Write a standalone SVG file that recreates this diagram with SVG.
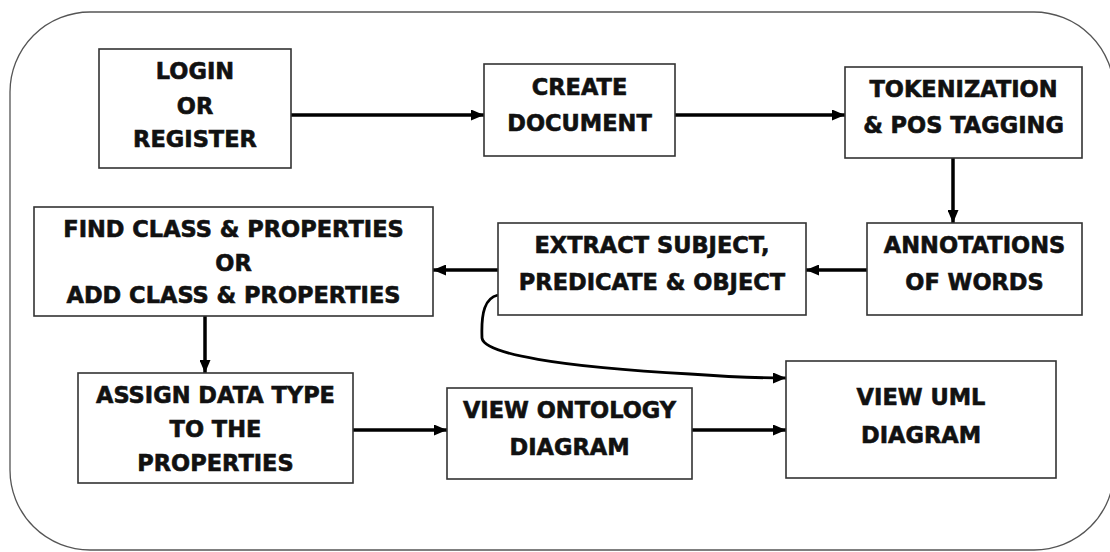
<svg xmlns="http://www.w3.org/2000/svg" width="1110" height="552" viewBox="0 0 1110 552">
<defs>
<marker id="ah" markerUnits="userSpaceOnUse" markerWidth="13" markerHeight="11" refX="13" refY="5.5" orient="auto">
<path d="M0,0 L13,5.5 L0,11 Z" fill="#000"/>
</marker>
<style>
.frame{fill:none;stroke:#555;stroke-width:1.3}
.box{fill:#fff;stroke:#333;stroke-width:1.6}
.lbl{font-family:"DejaVu Sans","Liberation Sans",sans-serif;font-weight:bold;font-size:22.5px;fill:#111;stroke:#111;stroke-width:0.6;text-anchor:middle}
.ar{fill:none;stroke:#000;stroke-width:3.5;marker-end:url(#ah)}
.cv{fill:none;stroke:#000;stroke-width:2.8;marker-end:url(#ah)}
</style>
</defs>
<rect class="frame" x="10" y="12" width="1104" height="538" rx="80" ry="80"/>
<g id="connectors">
<line class="ar" x1="291" y1="115" x2="484" y2="115"/>
<line class="ar" x1="675" y1="115" x2="845" y2="115"/>
<line class="ar" x1="953" y1="158" x2="953" y2="223"/>
<line class="ar" x1="867" y1="270" x2="806" y2="270"/>
<line class="ar" x1="498" y1="270" x2="433" y2="270"/>
<line class="ar" x1="205" y1="316" x2="205" y2="373"/>
<line class="ar" x1="353" y1="430" x2="447" y2="430"/>
<line class="ar" x1="692" y1="430" x2="786" y2="430"/>
<path class="cv" d="M498,295 C485,298 481,312 482,338 C484,354 560,367 690,374 C730,377 760,378 786,378"/>
</g>
<g id="login">
<rect class="box" x="99" y="49" width="192" height="119"/>
<text class="lbl" x="195" y="79">LOGIN</text>
<text class="lbl" x="195" y="114">OR</text>
<text class="lbl" x="195" y="147">REGISTER</text>
</g>
<g id="create">
<rect class="box" x="484" y="64" width="191" height="92"/>
<text class="lbl" x="579.5" y="95">CREATE</text>
<text class="lbl" x="579.5" y="131">DOCUMENT</text>
</g>
<g id="tokenization">
<rect class="box" x="845" y="67" width="237" height="91"/>
<text class="lbl" x="963.5" y="97">TOKENIZATION</text>
<text class="lbl" x="963.5" y="133">&amp; POS TAGGING</text>
</g>
<g id="annotations">
<rect class="box" x="867" y="223" width="215" height="92"/>
<text class="lbl" x="974.5" y="253">ANNOTATIONS</text>
<text class="lbl" x="974.5" y="290">OF WORDS</text>
</g>
<g id="extract">
<rect class="box" x="498" y="223" width="308" height="92"/>
<text class="lbl" x="652" y="253">EXTRACT SUBJECT,</text>
<text class="lbl" x="652" y="290">PREDICATE &amp; OBJECT</text>
</g>
<g id="findclass">
<rect class="box" x="34" y="207" width="399" height="109"/>
<text class="lbl" x="233.5" y="237">FIND CLASS &amp; PROPERTIES</text>
<text class="lbl" x="233.5" y="271">OR</text>
<text class="lbl" x="233.5" y="303">ADD CLASS &amp; PROPERTIES</text>
</g>
<g id="assign">
<rect class="box" x="78" y="373" width="275" height="110"/>
<text class="lbl" x="215.5" y="403">ASSIGN DATA TYPE</text>
<text class="lbl" x="215.5" y="437">TO THE</text>
<text class="lbl" x="215.5" y="471">PROPERTIES</text>
</g>
<g id="ontology">
<rect class="box" x="447" y="388" width="245" height="91"/>
<text class="lbl" x="569.5" y="418">VIEW ONTOLOGY</text>
<text class="lbl" x="569.5" y="455">DIAGRAM</text>
</g>
<g id="uml">
<rect class="box" x="786" y="361" width="270" height="117"/>
<text class="lbl" x="921" y="405">VIEW UML</text>
<text class="lbl" x="921" y="443">DIAGRAM</text>
</g>
</svg>
